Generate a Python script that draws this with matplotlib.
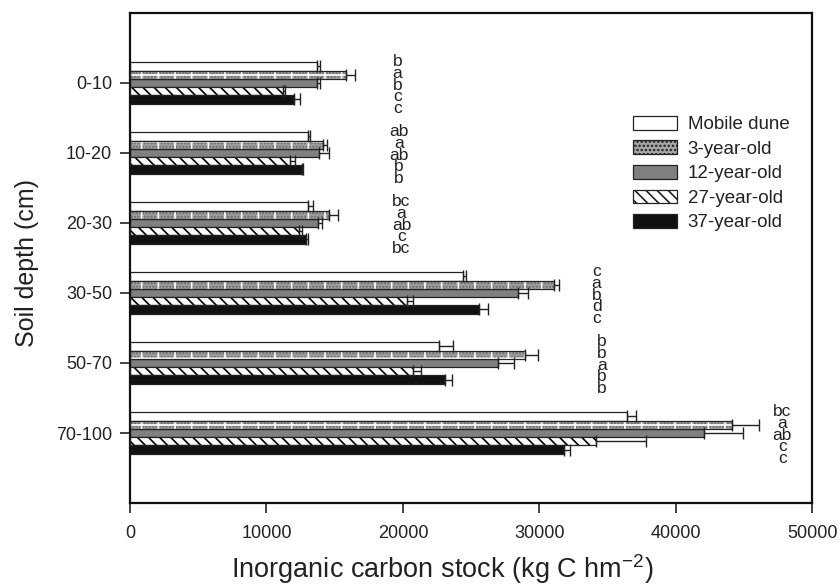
import numpy as np
import matplotlib
matplotlib.use("Agg")
import matplotlib.pyplot as plt

plt.rcParams['font.family'] = ['Liberation Sans', 'DejaVu Sans']
plt.rcParams['mathtext.default'] = 'regular'
plt.rcParams['hatch.linewidth'] = 1.2

depths = ["0-10", "10-20", "20-30", "30-50", "50-70", "70-100"]
series = ["Mobile dune", "3-year-old", "12-year-old", "27-year-old", "37-year-old"]

# inorganic carbon stock (kg C hm-2), one list per stand age
mobile_dune = [13740, 13070, 13070, 24430, 22670, 36450]
year3 = [15810, 14170, 14610, 31080, 28950, 44100]
year12 = [13740, 13880, 13810, 28460, 27000, 42070]
year27 = [11240, 11730, 12410, 20280, 20770, 34130]
year37 = [12020, 12590, 12880, 25580, 23090, 31830]

# standard errors (upper side only)
err_mobile = [200, 130, 370, 200, 980, 640]
err_3 = [680, 250, 660, 390, 980, 2030]
err_12 = [200, 730, 240, 730, 1170, 2830]
err_27 = [120, 370, 180, 440, 560, 3690]
err_37 = [440, 120, 190, 640, 490, 420]

# significance letters per depth (top to bottom = mobile dune .. 37-year-old)
letters = [
    ["b", "a", "b", "c", "c"],
    ["ab", "a", "ab", "b", "b"],
    ["bc", "a", "ab", "c", "bc"],
    ["c", "a", "b", "d", "c"],
    ["b", "b", "a", "b", "b"],
    ["bc", "a", "ab", "c", "c"],
]
letter_x = [19600, 19700, 19900, 34200, 34600, 47800]

values = [mobile_dune, year3, year12, year27, year37]
errors = [err_mobile, err_3, err_12, err_27, err_37]

fig = plt.figure(figsize=(8.39, 5.86), dpi=100)
ax = fig.add_axes([0.155, 0.1416, 0.813, 0.8364])

pos = np.arange(1, len(depths) + 1)
h = 0.118

faces = ['white', '#a8a8a8', '#808080', 'white', '#111111']
edge = '#222222'

handles = []
for i, (vals, errs) in enumerate(zip(values, errors)):
    y = pos + (i - 2) * h
    if i == 1:
        # speckled grey with white crosses
        ax.barh(y, vals, height=h, color=faces[i], edgecolor='#666666',
                hatch='.....', linewidth=0, zorder=2)
        ax.barh(y, vals, height=h, fill=False, edgecolor='white',
                hatch='+', linewidth=0, zorder=2.5)
        ax.barh(y, vals, height=h, fill=False, edgecolor=edge,
                linewidth=0.9, zorder=3)
        p = plt.Rectangle((0, 0), 1, 1, facecolor=faces[i], edgecolor=edge,
                          hatch='....', linewidth=0.9)
    elif i == 3:
        ax.barh(y, vals, height=h, color='white', edgecolor='black',
                hatch='\\\\\\', linewidth=0, zorder=2)
        ax.barh(y, vals, height=h, fill=False, edgecolor=edge,
                linewidth=0.9, zorder=3)
        p = plt.Rectangle((0, 0), 1, 1, facecolor='white', edgecolor=edge,
                          hatch='\\\\\\', linewidth=0.9)
    else:
        ax.barh(y, vals, height=h, color=faces[i], edgecolor=edge,
                linewidth=0.9, zorder=2)
        p = plt.Rectangle((0, 0), 1, 1, facecolor=faces[i], edgecolor=edge,
                          linewidth=0.9)
    ax.errorbar(vals, y, xerr=[np.zeros(len(errs)), errs], fmt='none',
                ecolor=edge, elinewidth=1, capsize=4, capthick=1, zorder=4)
    handles.append(p)

for g, labs in enumerate(letters):
    for i, lab in enumerate(labs):
        ax.text(letter_x[g], pos[g] + (i - 2) * 0.168 + 0.03, lab,
                ha='center', va='center', fontsize=12.5, color='#222222')

ax.set_xlim(0, 50000)
ax.set_ylim(7, 0)
ax.set_yticks(pos)
ax.set_yticklabels(depths)
ax.set_xticks([0, 10000, 20000, 30000, 40000, 50000])
ax.tick_params(axis='both', direction='out', length=7, width=1.2,
               labelsize=13, colors='#222222', pad=6)
ax.tick_params(axis='x', pad=9)
for s in ax.spines.values():
    s.set_linewidth(1.6)
    s.set_color('#111111')

ax.set_xlabel(r'Inorganic carbon stock (kg C hm$^{-2}$)', fontsize=19.5,
              color='#222222')
ax.xaxis.set_label_coords(0.457, -0.1)
ax.set_ylabel('Soil depth (cm)', fontsize=18, color='#222222')
ax.yaxis.set_label_coords(-0.133, 0.49)

leg = ax.legend(handles, series, loc='upper left', bbox_to_anchor=(0.727, 0.805),
                frameon=False, fontsize=13.5, handlelength=2.35, handleheight=0.75,
                labelspacing=0.38, handletextpad=0.55, borderaxespad=0)
for t in leg.get_texts():
    t.set_color('#222222')

fig.savefig("out.png", dpi=100)
